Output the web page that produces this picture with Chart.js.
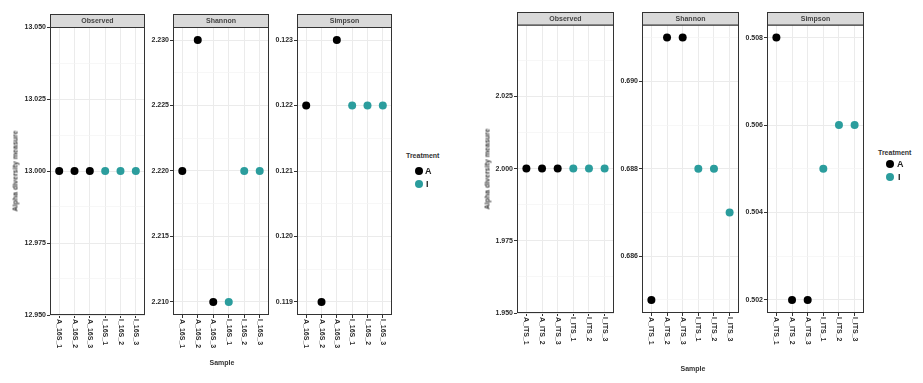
<!DOCTYPE html>
<html>
<head>
<meta charset="utf-8">
<script src="https://cdn.jsdelivr.net/npm/chart.js@4/dist/chart.umd.min.js"></script>
<style>
  html, body { margin: 0; padding: 0; background: #fff; }
  body { width: 923px; height: 383px; position: relative; overflow: hidden;
         font-family: "Liberation Sans", Arial, sans-serif; }
  canvas { position: absolute; }
  .txt { position: absolute; font-weight: bold; font-size: 7px; color: #333; white-space: nowrap; }
  .ytitle { transform: translate(-50%, -50%) rotate(-90deg); }
  .xtitle { transform: translate(-50%, -50%); }
  .dot { position: absolute; width: 8px; height: 8px; border-radius: 50%; transform: translate(-50%, -50%); }
  .key { position: absolute; font-weight: bold; font-size: 9px; color: #222; transform: translateY(-50%); }
</style>
</head>
<body>

<canvas id="obs16"></canvas>
<canvas id="sha16"></canvas>
<canvas id="sim16"></canvas>
<canvas id="obsITS"></canvas>
<canvas id="shaITS"></canvas>
<canvas id="simITS"></canvas>

<div class="txt ytitle" style="left:15px; top:171px;">Alpha diversity measure</div>
<div class="txt xtitle" style="left:222px; top:362px;">Sample</div>
<div class="txt" style="left:406px; top:152px;">Treatment</div>
<div class="dot" style="left:419px; top:171px; background:#000;"></div>
<div class="key" style="left:425px; top:171px;">A</div>
<div class="dot" style="left:419px; top:183.5px; background:#2b9d9d;"></div>
<div class="key" style="left:426px; top:183.5px;">I</div>

<div class="txt ytitle" style="left:487px; top:169px;">Alpha diversity measure</div>
<div class="txt xtitle" style="left:693px; top:368px;">Sample</div>
<div class="txt" style="left:878px; top:149px;">Treatment</div>
<div class="dot" style="left:890px; top:164px; background:#000;"></div>
<div class="key" style="left:897px; top:164px;">A</div>
<div class="dot" style="left:890px; top:177px; background:#2b9d9d;"></div>
<div class="key" style="left:898px; top:177px;">I</div>

<script>
// Muestras y tratamiento
const samples16S = ['A_16S_1', 'A_16S_2', 'A_16S_3', 'I_16S_1', 'I_16S_2', 'I_16S_3'];
const samplesITS = ['A_ITS_1', 'A_ITS_2', 'A_ITS_3', 'I_ITS_1', 'I_ITS_2', 'I_ITS_3'];
const treatment = ['A', 'A', 'A', 'I', 'I', 'I'];

// Medidas de diversidad alfa (16S)
const observed16S = [13, 13, 13, 13, 13, 13];
const shannon16S = [2.22, 2.23, 2.21, 2.21, 2.22, 2.22];
const simpson16S = [0.122, 0.119, 0.123, 0.122, 0.122, 0.122];

// Medidas de diversidad alfa (ITS)
const observedITS = [2, 2, 2, 2, 2, 2];
const shannonITS = [0.685, 0.691, 0.691, 0.688, 0.688, 0.687];
const simpsonITS = [0.508, 0.502, 0.502, 0.505, 0.506, 0.506];

// Ejes: límites, marcas principales y secundarias
const obs16Range = [12.95, 13.05];
const obs16Ticks = [12.95, 12.975, 13, 13.025, 13.05];
const obs16Minor = [12.9625, 12.9875, 13.0125, 13.0375];
const sha16Range = [2.209, 2.231];
const sha16Ticks = [2.21, 2.215, 2.22, 2.225, 2.23];
const sha16Minor = [2.2125, 2.2175, 2.2225, 2.2275];
const sim16Range = [0.1188, 0.1232];
const sim16Ticks = [0.119, 0.12, 0.121, 0.122, 0.123];
const sim16Minor = [0.1195, 0.1205, 0.1215, 0.1225];

const obsITSRange = [1.95, 2.0499];
const obsITSTicks = [1.95, 1.975, 2, 2.025];
const obsITSMinor = [1.9625, 1.9875, 2.0125, 2.0375];
const shaITSRange = [0.6847, 0.6913];
const shaITSTicks = [0.686, 0.688, 0.69];
const shaITSMinor = [0.685, 0.687, 0.689, 0.691];
const simITSRange = [0.5017, 0.5083];
const simITSTicks = [0.502, 0.504, 0.506, 0.508];
const simITSMinor = [0.503, 0.505, 0.507];

const colores = { A: '#000000', I: '#2b9d9d' };
const YW = 40, XH = 48;

const facetPlugin = {
  id: 'facet',
  afterDraw(chart, args, opts) {
    const { ctx, chartArea: a } = chart;
    const w = a.right - a.left;
    ctx.save();
    ctx.strokeStyle = '#333';
    ctx.lineWidth = 1;
    ctx.strokeRect(a.left + 0.5, a.top + 0.5, w - 1, a.bottom - a.top - 1);
    // franja del título
    ctx.fillStyle = '#d9d9d9';
    ctx.fillRect(a.left + 0.5, a.top - opts.strip + 0.5, w - 1, opts.strip);
    ctx.strokeRect(a.left + 0.5, a.top - opts.strip + 0.5, w - 1, opts.strip);
    ctx.fillStyle = '#444';
    ctx.font = 'bold 7px "Liberation Sans", Arial, sans-serif';
    ctx.textAlign = 'center';
    ctx.textBaseline = 'middle';
    ctx.fillText(opts.title, a.left + w / 2, a.top - opts.strip / 2 + 0.5);
    // etiquetas del eje x, giradas
    const xs = chart.scales.x;
    ctx.fillStyle = '#2a2a2a';
    ctx.textAlign = 'left';
    opts.labels.forEach((lab, i) => {
      ctx.save();
      ctx.translate(xs.getPixelForValue(i), a.bottom + 4);
      ctx.rotate(Math.PI / 2);
      ctx.fillText(lab, 0, 0);
      ctx.restore();
    });
    ctx.restore();
  }
};

function crearPanel(id, box, titulo, muestras, valores, rango, principales, secundarias) {
  const canvas = document.getElementById(id);
  canvas.width = YW + box.w + 1;
  canvas.height = box.strip + box.h + XH;
  canvas.style.left = (box.left - YW) + 'px';
  canvas.style.top = box.top + 'px';

  const esPrincipal = v => principales.some(p => Math.abs(p - v) < 1e-9);
  const datasets = ['A', 'I'].map(t => ({
    label: t,
    data: valores.map((v, i) => ({ x: i, y: v })).filter((_, i) => treatment[i] === t),
    backgroundColor: colores[t],
    borderColor: colores[t],
    pointRadius: 4,
    pointBorderWidth: 0,
    pointHoverRadius: 4
  }));

  new Chart(canvas, {
    type: 'scatter',
    data: { datasets },
    plugins: [facetPlugin],
    options: {
      responsive: false,
      animation: false,
      layout: { padding: { top: box.strip, right: 1, left: 0, bottom: 0 } },
      plugins: {
        legend: { display: false },
        tooltip: { enabled: false },
        facet: { title: titulo, labels: muestras, strip: box.strip }
      },
      scales: {
        x: {
          type: 'linear',
          bounds: 'data',
          min: -0.6,
          max: muestras.length - 0.4,
          afterBuildTicks: s => { s.ticks = muestras.map((_, i) => ({ value: i })); },
          afterFit: s => { s.height = XH; },
          ticks: { display: false },
          grid: { color: '#ebebeb', lineWidth: 1, tickColor: '#333', tickLength: 3, tickWidth: 1 },
          border: { display: false }
        },
        y: {
          type: 'linear',
          bounds: 'data',
          min: rango[0],
          max: rango[1],
          afterBuildTicks: s => {
            s.ticks = principales.concat(secundarias).sort((a, b) => a - b).map(v => ({ value: v }));
          },
          afterDataLimits: s => { s.min = rango[0]; s.max = rango[1]; },
          afterFit: s => { s.width = YW; },
          ticks: {
            autoSkip: false,
            padding: 1,
            color: '#2a2a2a',
            font: { family: '"Liberation Sans", Arial, sans-serif', size: 7, weight: 'bold' },
            callback: v => esPrincipal(v) ? v.toFixed(3) : ''
          },
          grid: {
            color: c => esPrincipal(c.tick.value) ? '#ebebeb' : '#f3f3f3',
            lineWidth: c => esPrincipal(c.tick.value) ? 1 : 0.7,
            tickColor: c => esPrincipal(c.tick.value) ? '#333' : 'rgba(0,0,0,0)',
            tickLength: 3,
            tickWidth: 1
          },
          border: { display: false }
        }
      }
    }
  });
}

const izq = { top: 14, strip: 13, h: 288 };
const der = { top: 12, strip: 12.5, h: 289 };

crearPanel('obs16', { ...izq, left: 50, w: 98 }, 'Observed', samples16S, observed16S, obs16Range, obs16Ticks, obs16Minor);
crearPanel('sha16', { ...izq, left: 173, w: 99 }, 'Shannon', samples16S, shannon16S, sha16Range, sha16Ticks, sha16Minor);
crearPanel('sim16', { ...izq, left: 297, w: 98 }, 'Simpson', samples16S, simpson16S, sim16Range, sim16Ticks, sim16Minor);

crearPanel('obsITS', { ...der, left: 517, w: 100 }, 'Observed', samplesITS, observedITS, obsITSRange, obsITSTicks, obsITSMinor);
crearPanel('shaITS', { ...der, left: 642, w: 100 }, 'Shannon', samplesITS, shannonITS, shaITSRange, shaITSTicks, shaITSMinor);
crearPanel('simITS', { ...der, left: 767, w: 100 }, 'Simpson', samplesITS, simpsonITS, simITSRange, simITSTicks, simITSMinor);
</script>
</body>
</html>
